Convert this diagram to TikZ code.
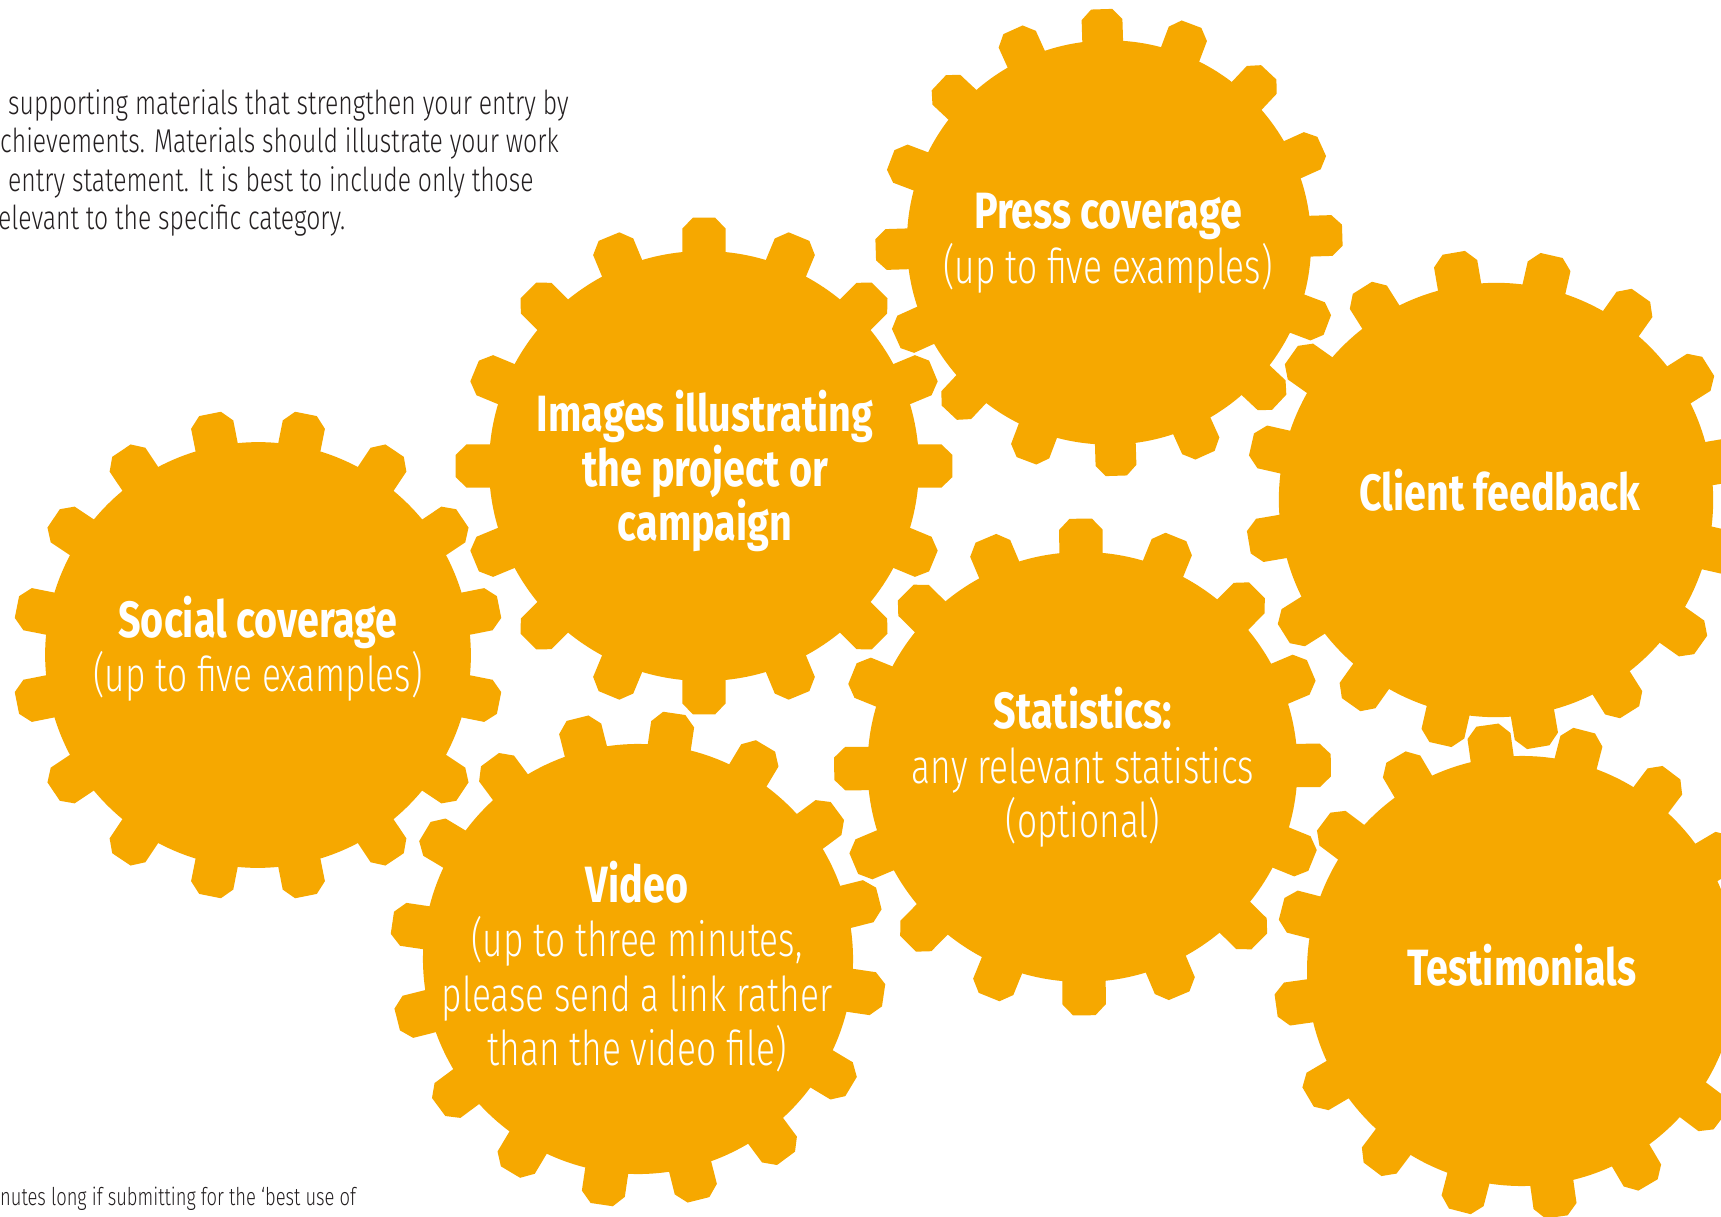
\documentclass[tikz,border=0pt]{standalone}
\usepackage{fontspec}
\setmainfont{Fira Sans}
\newfontfamily\boldf{Fira Sans}[FakeStretch=0.775]
\newfontfamily\lightf{Fira Sans Light}[FakeStretch=0.735]
\newfontfamily\paraf{Fira Sans Light}[FakeStretch=0.75]
\definecolor{gearc}{RGB}{246,168,0}
\definecolor{ink}{RGB}{35,31,32}
\tikzset{
  gtitle/.style={text=white, font=\boldf\bfseries\fontsize{51}{54}\selectfont, anchor=base, inner sep=0pt},
  gsub/.style={text=white, font=\lightf\fontsize{48}{54}\selectfont, anchor=base, inner sep=0pt},
  para/.style={text=ink, font=\paraf\fontsize{33}{38}\selectfont, anchor=base west, inner sep=0pt},
  note/.style={text=ink, font=\paraf\fontsize{24.5}{28}\selectfont, anchor=base west, inner sep=0pt},
  gearfill/.style={fill=gearc, draw=none}
}
% #1 cx, #2 cy (pixels from top), #3 scale, #4 rotation
\newcommand\gearshape[4]{%
  \begin{scope}[shift={(#1,-#2)}, scale=#3, rotate=#4]
    \fill[gearfill] (0,0) circle (215);
    \foreach \k in {0,...,15}{
      \fill[gearfill, rotate=\k*22.5] (-21.7,205) -- (-21.7,237.3) -- (-11.2,248.3)
        -- (11.2,248.3) -- (21.7,237.3) -- (21.7,205) -- cycle;
    }
  \end{scope}}
\begin{document}
\begin{tikzpicture}[x=1pt,y=1pt]
\useasboundingbox (0,0) rectangle (1721,-1217);
\fill[white] (0,0) rectangle (1721,-1217);

% gears
\gearshape{258}{655}{0.99}{11.25}
\gearshape{704}{466}{1.0}{0}
\gearshape{1109}{242.5}{0.94}{1.8}
\gearshape{1082.5}{767}{1.0}{0.4}
\gearshape{638}{959}{1.0}{14.1}
\gearshape{1496}{500}{1.01}{9.7}
\gearshape{1522}{971}{1.0}{8}

% intro text
\node[para] (p1) at (8,-114.5) {supporting materials that strengthen your entry by};
\node[para] (p2) at (0,-153) {chievements. Materials should illustrate your work};
\node[para] (p3) at (8,-191.5) {entry statement. It is best to include only those};
\node[para] (p4) at (-2,-229.5) {elevant to the specific category.};
\node[note] (n1) at (0,-1205) {nutes long if submitting for the ‘best use of};

% gear texts
\node[gtitle] (socialT) at (258,-637) {Social coverage};
\node[gsub]   (socialS) at (258,-691) {(up to five examples)};

\node[gtitle] (pressT) at (1108,-229) {Press coverage};
\node[gsub]   (pressS) at (1108,-283) {(up to five examples)};

\node[gtitle] (imgA) at (705,-431.7) {Images illustrating};
\node[gtitle] (imgB) at (705,-486.7) {the project or};
\node[gtitle] (imgC) at (705,-540.7) {campaign};

\node[gtitle] (statT) at (1083,-728.7) {Statistics:};
\node[gsub]   (statA) at (1083,-783) {any relevant statistics};
\node[gsub]   (statB) at (1083,-837) {(optional)};

\node[gtitle] (vidT) at (637,-902.7) {Video};
\node[gsub]   (vidA) at (637,-956.7) {(up to three minutes,};
\node[gsub]   (vidB) at (637,-1011.7) {please send a link rather};
\node[gsub]   (vidC) at (637,-1065.7) {than the video file)};

\node[gtitle] (clientT) at (1500,-510.7) {Client feedback};
\node[gtitle] (testT) at (1522,-985) {Testimonials};
\end{tikzpicture}
\end{document}
